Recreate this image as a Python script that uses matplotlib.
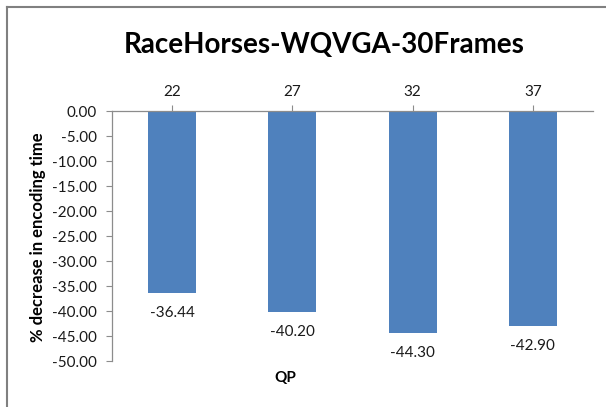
import matplotlib.pyplot as plt
from matplotlib.lines import Line2D

QP = ["22", "27", "32", "37"]
DECREASE = [-36.44, -40.20, -44.30, -42.90]
Y_TICKS = [0, -5, -10, -15, -20, -25, -30, -35, -40, -45, -50]

BAR_COLOR = "#4F81BD"
AXIS_COLOR = "#8C8C8C"
FONT = "Lato"

plt.rcParams["font.family"] = [FONT, "DejaVu Sans"]

fig = plt.figure(figsize=(6.06, 4.07), dpi=100)
ax = fig.add_axes([0.1848, 0.113, 0.7937, 0.614])

x = list(range(len(QP)))
ax.bar(x, DECREASE, width=0.4, color=BAR_COLOR, zorder=2)

for xi, v in zip(x, DECREASE):
    ax.annotate(f"{v:.2f}", (xi, v), xytext=(0, -14.5), textcoords="offset points",
                ha="center", va="center", fontsize=11, color="#1a1a1a")

ax.set_xlim(-0.5, len(QP) - 0.5)
ax.set_ylim(-50, 0)
ax.set_yticks(Y_TICKS)
ax.set_yticklabels([f"{t:.2f}" for t in Y_TICKS])
ax.set_xticks(x)
ax.set_xticklabels(QP)

ax.xaxis.tick_top()
ax.tick_params(axis="x", length=4, color=AXIS_COLOR, labelsize=11, pad=5, labelcolor="#1a1a1a")
ax.tick_params(axis="y", length=4, color=AXIS_COLOR, labelsize=11, pad=7, labelcolor="#1a1a1a")

for side in ["right", "bottom"]:
    ax.spines[side].set_visible(False)
for side in ["left", "top"]:
    ax.spines[side].set_color(AXIS_COLOR)
    ax.spines[side].set_linewidth(0.9)

fig.text(38 / 606, 1 - 237 / 407, "% decrease in encoding time", rotation=90, ha="center", va="center",
         fontsize=12, fontweight="bold")
fig.text(285 / 606, 1 - 378 / 407, "QP", ha="center", va="center", fontsize=11, fontweight="bold")
fig.text(324 / 606, 1 - 45 / 407, "RaceHorses-WQVGA-30Frames", ha="center", va="center",
         fontsize=20, fontweight="bold")

# chart frame (only left and top edges visible)
fig.add_artist(Line2D([7 / 606, 7 / 606], [0, 1 - 7 / 407], color="#808080", lw=1.5))
fig.add_artist(Line2D([7 / 606, 605 / 606], [1 - 7 / 407, 1 - 7 / 407], color="#808080", lw=1.5))

fig.savefig("out.png", dpi=100)
